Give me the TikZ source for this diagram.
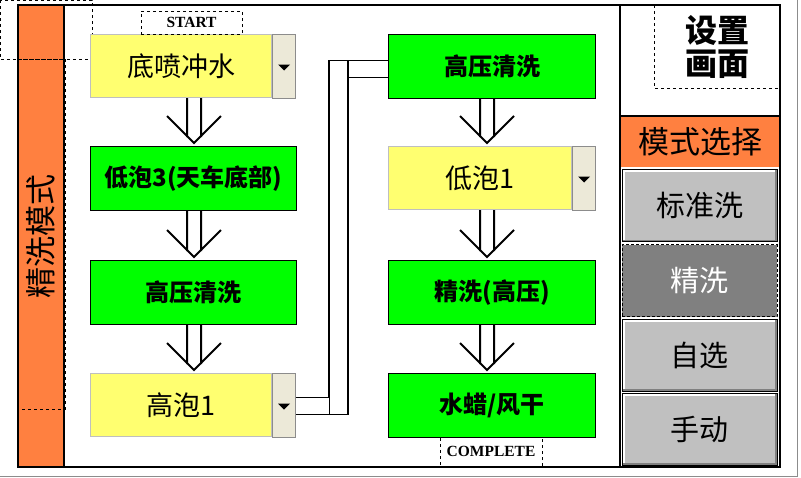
\documentclass[tikz,border=0pt]{standalone}
\usepackage{fontspec}
\setmainfont{Noto Sans CJK SC}
\newfontfamily\tagfont{Liberation Serif}
\usetikzlibrary{calc}
\definecolor{stepgreen}{HTML}{00FF00}
\definecolor{stepyellow}{HTML}{FFFF70}
\definecolor{sideorange}{HTML}{FF8040}
\definecolor{btnbeige}{HTML}{ECE9D8}
\definecolor{btngray}{HTML}{C0C0C0}
\definecolor{btndark}{HTML}{808080}
\tikzset{
  frame/.style={line width=2.5pt},
  greenstep/.style={draw=black, line width=1.2pt, fill=stepgreen, anchor=north west, inner sep=0pt,
    minimum width=206, minimum height=64, font=\bfseries\fontsize{24}{24}\selectfont},
  yellowstep/.style={draw=black!25, line width=1.2pt, fill=stepyellow, anchor=north west, inner sep=0pt,
    minimum width=181, minimum height=63, font=\fontsize{27}{27}\selectfont},
  dropbtn/.style={draw=black!45, line width=1.2pt, fill=btnbeige, anchor=north west, inner sep=0pt,
    minimum width=23, minimum height=64},
  tagbox/.style={draw, dashed, line width=0.8pt, inner sep=0pt, font=\tagfont\bfseries\fontsize{15.5}{15.5}\selectfont},
  sidebar/.style={fill=sideorange, rotate=90, inner sep=0pt, minimum width=462, minimum height=46,
    font=\fontsize{31}{31}\selectfont},
  modehead/.style={fill=sideorange, inner sep=0pt, minimum width=160, minimum height=51,
    font=\fontsize{31}{31}\selectfont},
  modebtn/.style={fill=btngray, draw=black, line width=1pt, inner sep=0pt, minimum width=155, minimum height=72,
    font=\fontsize{29}{29}\selectfont,
    path picture={
      \draw[white, line width=5pt] (path picture bounding box.south west) |- (path picture bounding box.north east);
      \draw[btndark, line width=4pt] (path picture bounding box.south west) -| (path picture bounding box.north east);}},
  modesel/.style={fill=btndark, draw=black, densely dashed, line width=0.8pt, inner sep=0pt,
    minimum width=155, minimum height=72, text=white, font=\fontsize{29}{29}\selectfont},
  flowline/.style={line width=2pt},
  pipe/.style={line width=1.2pt},
}
\newcommand\steparrow[3]{%
  \draw[flowline] ($(#1.south -| #3)+(-7,0)$) -- ($(#2.north -| #3)+(-7,-9)$)
    ($(#1.south -| #3)+(7,0)$) -- ($(#2.north -| #3)+(7,-9)$)
    ($(#2.north -| #3)+(-27,-30)$) -- ($(#2.north -| #3)+(0,-3)$) -- ($(#2.north -| #3)+(27,-30)$);}
\begin{document}
\begin{tikzpicture}[x=1pt,y=-1pt]
    \useasboundingbox (0,0) rectangle (801,477);
    \fill[white] (0,0) rectangle (801,477);
    \draw[black!45] (797,0) -- (797,476) -- (0,476);
    \node[sidebar] (side) at (41,236) {精洗模式};
    \draw[dashed, line width=0.8pt] (0,0) rectangle (92,59);
    \draw[dashed, line width=0.8pt] (18,59) rectangle (65,409);
    \draw[dashed, line width=0.8pt] (654,5) rectangle (780,88);
    \coordinate (axisA) at (194,0);
    \coordinate (axisB) at (487,0);
    \node[yellowstep] (a1) at (90,34) {底喷冲水};
    \node[dropbtn] (a1btn) at (272,34) {};
    \node[greenstep] (a2) at (90,146) {低泡3(天车底部)};
    \node[greenstep] (a3) at (90,260) {高压清洗};
    \node[yellowstep] (a4) at (90,373) {高泡1};
    \node[dropbtn] (a4btn) at (272,373) {};
    \node[greenstep, minimum width=207] (b1) at (388,34) {高压清洗};
    \node[yellowstep, minimum width=183] (b2) at (388,146) {低泡1};
    \node[dropbtn] (b2btn) at (572,146) {};
    \node[greenstep, minimum width=207] (b3) at (388,260) {精洗(高压)};
    \node[greenstep, minimum width=207] (b4) at (388,373) {水蜡/风干};
    \foreach \b in {a1btn,a4btn,b2btn}
        \fill ($(\b.center)+(-6,-2)$) -- ++(12,0) -- ++(-6,6) -- cycle;
    \node[tagbox, minimum width=101, minimum height=23] (start) at (191.5,22.5) {START};
    \node[tagbox, minimum width=102, minimum height=29] (done) at (491,451.5) {COMPLETE};
    \steparrow{a1}{a2}{axisA}
    \steparrow{a2}{a3}{axisA}
    \steparrow{a3}{a4}{axisA}
    \steparrow{b1}{b2}{axisB}
    \steparrow{b2}{b3}{axisB}
    \steparrow{b3}{b4}{axisB}
    \draw[pipe] ($(a4btn.east)+(0,-8)$) -| ($(b1.west)+(-59,-6)$) -- ($(b1.west)+(0,-6)$)
        ($(a4btn.east)+(0,9)$) -| ($(b1.west)+(-40,11)$) -- ($(b1.west)+(0,11)$)
        ($(a4btn.east)+(33,9)$) -- ++(0,-17)
        ($(b1.west)+(-40,11)$) -- ++(0,-17);
    \node[align=center, font=\bfseries\fontsize{32}{33}\selectfont] (setup) at (717,47) {设置\\画面};
    \node[modehead] (mode) at (700,141.5) {模式选择};
    \node[modebtn] (std) at (699.5,205.5) {标准洗};
    \node[modesel] (fine) at (699.5,280.5) {精洗};
    \node[modebtn] (self) at (699.5,355) {自选};
    \node[modebtn] (hand) at (699.5,429) {手动};
    \draw[frame] (18,5) rectangle (780,467);
    \draw[frame] (64,5) -- (64,467) (620,5) -- (620,467) (620,116) -- (780,116);
\end{tikzpicture}
\end{document}
